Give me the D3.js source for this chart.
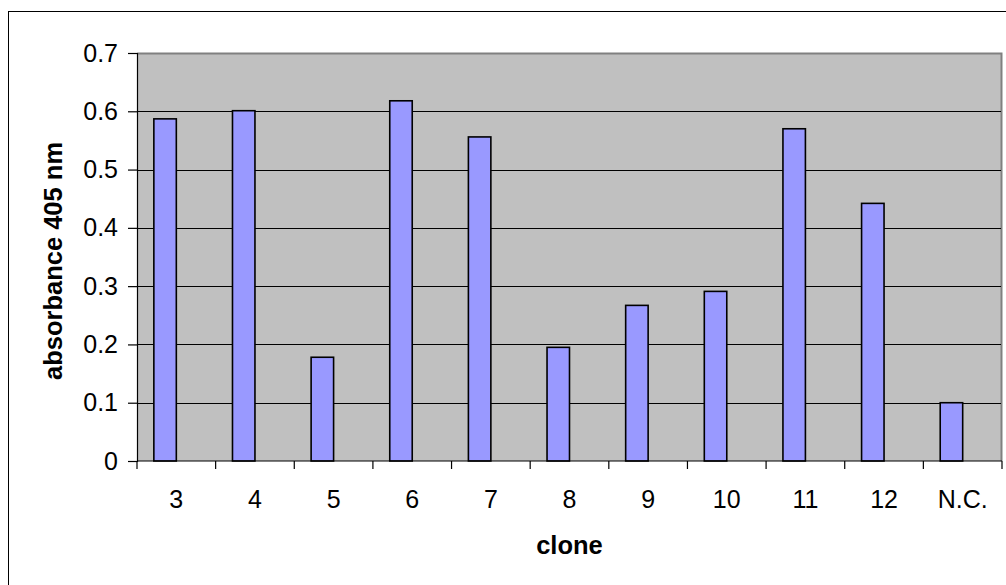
<!DOCTYPE html>
<html>
<head>
<meta charset="utf-8">
<script src="https://cdn.jsdelivr.net/npm/d3@7"></script>
<style>
  html, body { margin: 0; padding: 0; background: #fff; }
  svg { display: block; }
  text { font-family: "Liberation Sans", Arial, sans-serif; fill: #000; }
</style>
</head>
<body>
<svg id="chart" width="1006" height="585"></svg>
<script>
const categories = ["3", "4", "5", "6", "7", "8", "9", "10", "11", "12", "N.C."];
const absorbance = [0.587, 0.601, 0.178, 0.618, 0.556, 0.195, 0.267, 0.291, 0.570, 0.442, 0.100];
const yTicks = [0, 0.1, 0.2, 0.3, 0.4, 0.5, 0.6, 0.7];
const yTickLabels = ["0", "0.1", "0.2", "0.3", "0.4", "0.5", "0.6", "0.7"];
const xTitle = "clone";
const yTitle = "absorbance 405 nm";

const svg = d3.select("#chart");
const W = 1006, H = 585;
const plot = { left: 137, right: 1002, top: 53, bottom: 461 };

// outer chart border (extends past right/bottom edges)
svg.append("rect")
  .attr("x", 8.5).attr("y", 11.5)
  .attr("width", W + 20).attr("height", H + 20)
  .attr("fill", "#fff").attr("stroke", "#000").attr("stroke-width", 1);

const x = d3.scaleBand().domain(categories).range([plot.left, plot.right]).padding(0);
const y = d3.scaleLinear().domain([0, 0.7]).range([plot.bottom, plot.top]);

// plot area
svg.append("rect")
  .attr("x", plot.left).attr("y", plot.top)
  .attr("width", plot.right - plot.left).attr("height", plot.bottom - plot.top)
  .attr("fill", "#c0c0c0");
// top and right border gray
svg.append("path")
  .attr("d", `M${plot.left},${plot.top + 0.5}H${plot.right - 0.5}V${plot.bottom}`)
  .attr("fill", "none").attr("stroke", "#808080").attr("stroke-width", 2);

// gridlines
svg.append("g").selectAll("line")
  .data(yTicks.filter(d => d > 0 && d < 0.7))
  .join("line")
  .attr("x1", plot.left).attr("x2", plot.right - 1)
  .attr("y1", d => Math.round(y(d)) + 0.5).attr("y2", d => Math.round(y(d)) + 0.5)
  .attr("stroke", "#000").attr("stroke-width", 1.2);

// bars (Excel clustered layout with empty second slot, gap 150%)
const bw = x.bandwidth() / 3.5;
svg.append("g").selectAll("rect")
  .data(categories.map((c, i) => ({ c, v: absorbance[i] })))
  .join("rect")
  .attr("x", d => x(d.c) + 0.75 * bw)
  .attr("y", d => y(d.v))
  .attr("width", bw)
  .attr("height", d => y(0) - y(d.v))
  .attr("fill", "#9999ff")
  .attr("stroke", "#000").attr("stroke-width", 1.6);

// y axis
const yAxis = d3.axisLeft(y).tickValues(yTicks)
  .tickFormat((d, i) => yTickLabels[i]).tickSize(9).tickPadding(10);
const gy = svg.append("g").attr("transform", `translate(${plot.left},0)`).call(yAxis);
gy.select(".domain").attr("stroke", "#000").attr("stroke-width", 1.2);
gy.selectAll(".tick line").attr("stroke", "#000").attr("stroke-width", 1.2);
gy.selectAll(".tick text")
  .attr("font-family", "Liberation Sans, Arial, sans-serif")
  .attr("font-size", 25).attr("fill", "#000");

// x axis: ticks at category boundaries
const gx = svg.append("g").attr("transform", `translate(0,${plot.bottom})`);
gx.append("line").attr("x1", plot.left).attr("x2", plot.right)
  .attr("y1", 0).attr("y2", 0).attr("stroke", "#000").attr("stroke-width", 1.2);
const bounds = categories.map(c => x(c)).concat([plot.right]);
gx.selectAll("line.tk").data(bounds).join("line").attr("class", "tk")
  .attr("x1", d => d).attr("x2", d => d).attr("y1", 0).attr("y2", 8)
  .attr("stroke", "#000").attr("stroke-width", 1.2);
gx.selectAll("text").data(categories).join("text")
  .attr("x", d => x(d) + x.bandwidth() / 2)
  .attr("y", 47)
  .attr("text-anchor", "middle")
  .attr("font-size", 25)
  .text(d => d);

// titles
svg.append("text")
  .attr("x", (plot.left + plot.right) / 2).attr("y", 554)
  .attr("text-anchor", "middle").attr("font-size", 25.5).attr("font-weight", "bold")
  .text(xTitle);
svg.append("text")
  .attr("transform", `translate(62,261) rotate(-90)`)
  .attr("text-anchor", "middle").attr("font-size", 25.5).attr("font-weight", "bold")
  .text(yTitle);
</script>
</body>
</html>
